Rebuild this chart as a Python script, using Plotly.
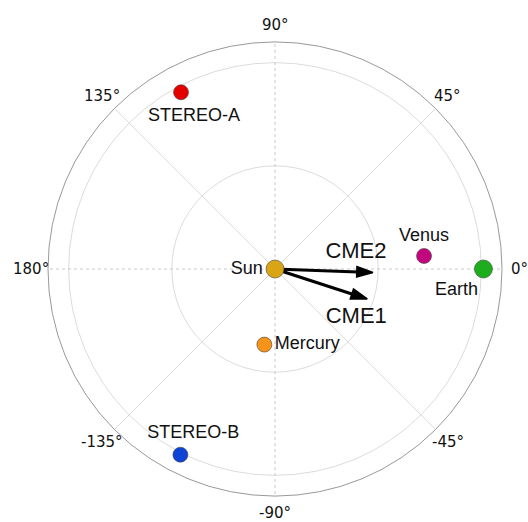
import math
import plotly.graph_objects as go

# ---- data (heliocentric positions: distance in AU, longitude in degrees) ----
bodies = ["Sun", "Mercury", "Venus", "Earth", "STEREO-A", "STEREO-B"]
body_r = [0.0, 0.37, 0.725, 1.01, 0.97, 1.01]
body_theta = [0.0, -98.0, 5.0, 0.0, 118.0, -117.0]

cmes = ["CME1", "CME2"]
cme_r = [0.47, 0.475]
cme_theta = [-18.0, -2.0]

tick_vals = [0, 45, 90, 135, 180, 225, 270, 315]
tick_text = ["0°", "45°", "90°", "135°", "180°", "-135°", "-90°", "-45°"]

# ---- styling ----
W, H = 528, 522
ML, MR, MT, MB = 48, 26, 42, 26
R_MAX = 1.1
R_PX = (W - ML - MR) / 2          # polar radius in pixels
PX_PER_AU = R_PX / R_MAX
TICK_LABEL_PX = R_PX + 17          # tick label centres, in pixels from the pole

colors = {"Sun": "#D9A514", "Mercury": "#F7931A", "Venus": "#C2067E",
          "Earth": "#1DAD1D", "STEREO-A": "#E50000", "STEREO-B": "#0D44D6"}
sizes = {"Sun": 18, "Mercury": 15, "Venus": 15, "Earth": 18,
         "STEREO-A": 15, "STEREO-B": 15}
# label placement: either a textposition, or a pixel offset (dx, dy) of the label centre
label_place = {"Sun": "middle left", "Mercury": "middle right", "Venus": "top center",
               "Earth": (-27, 21), "STEREO-A": (13, 24), "STEREO-B": (13, -21)}
cme_label_offset = {"CME1": (-11, 19), "CME2": (-17, -20)}
label_font = dict(family="Liberation Sans, Arial, sans-serif", size=18, color="#111")
cme_font = dict(family="Liberation Sans, Arial, sans-serif", size=22, color="#111")
tick_font = dict(family="DejaVu Sans", size=15, color="#111")


def offset_polar(r, theta, dx, dy):
    """Shift a polar point by a pixel offset (screen y downwards)."""
    x = r * PX_PER_AU * math.cos(math.radians(theta)) + dx
    y = r * PX_PER_AU * math.sin(math.radians(theta)) - dy
    return math.hypot(x, y) / PX_PER_AU, math.degrees(math.atan2(y, x))


fig = go.Figure()

# grid spokes: dotted on the axes, solid on the diagonals
for ang in tick_vals:
    dotted = ang % 90 == 0
    fig.add_trace(go.Scatterpolar(
        r=[0, R_MAX], theta=[ang, ang], mode="lines",
        line=dict(color="#c8c8c8" if dotted else "#dcdcdc", width=1,
                  dash="dot" if dotted else "solid"),
        hoverinfo="skip", showlegend=False))

# CME arrows (the "arrow" marker symbol has its tip on the data point)
for name, rr, th in zip(cmes, cme_r, cme_theta):
    fig.add_trace(go.Scatterpolar(
        r=[0, rr], theta=[0, th], mode="lines+markers",
        line=dict(color="black", width=3),
        marker=dict(symbol="arrow", size=[0, 17], angleref="previous",
                    color="black", opacity=1, line=dict(width=1.5, color="black")),
        hoverinfo="skip", showlegend=False))
    lr, lt = offset_polar(rr, th, *cme_label_offset[name])
    fig.add_trace(go.Scatterpolar(
        r=[lr], theta=[lt], mode="text", text=[name], textposition="middle center",
        textfont=cme_font, hoverinfo="skip", showlegend=False))

# bodies
for name, rr, th in zip(bodies, body_r, body_theta):
    place = label_place[name]
    marker = dict(size=sizes[name], color=colors[name],
                  line=dict(color="rgba(60,60,60,0.7)", width=0.8))
    if isinstance(place, str):
        fig.add_trace(go.Scatterpolar(
            r=[rr], theta=[th], mode="markers+text", text=[name],
            textposition=place, textfont=label_font, marker=marker,
            showlegend=False, name=name))
    else:
        fig.add_trace(go.Scatterpolar(
            r=[rr], theta=[th], mode="markers", marker=marker,
            showlegend=False, name=name))
        lr, lt = offset_polar(rr, th, *place)
        fig.add_trace(go.Scatterpolar(
            r=[lr], theta=[lt], mode="text", text=[name], textposition="middle center",
            textfont=label_font, hoverinfo="skip", showlegend=False))

# angular tick labels, centred on a circle just outside the plot edge
plot_w, plot_h = W - ML - MR, H - MT - MB
annotations = []
for val, txt in zip(tick_vals, tick_text):
    a = math.radians(val)
    annotations.append(dict(
        xref="paper", yref="paper",
        x=0.5 + TICK_LABEL_PX * math.cos(a) / plot_w,
        y=0.5 + TICK_LABEL_PX * math.sin(a) / plot_h,
        text=txt, showarrow=False, xanchor="center", yanchor="middle",
        font=tick_font))

fig.update_layout(
    width=W, height=H,
    margin=dict(l=ML, r=MR, t=MT, b=MB),
    paper_bgcolor="white",
    annotations=annotations,
    polar=dict(
        bgcolor="white",
        domain=dict(x=[0, 1], y=[0, 1]),
        radialaxis=dict(range=[0, R_MAX], tickvals=[0.5, 1.0], showticklabels=False,
                        ticks="", showline=False, gridcolor="#dcdcdc", gridwidth=1),
        angularaxis=dict(rotation=0, direction="counterclockwise",
                         tickvals=tick_vals, showticklabels=False, ticks="",
                         showgrid=False, showline=True, linecolor="#999999", linewidth=1),
    ),
)

fig.write_html("out.html", config={"displayModeBar": False},
               post_script="document.body.style.margin='0';")
